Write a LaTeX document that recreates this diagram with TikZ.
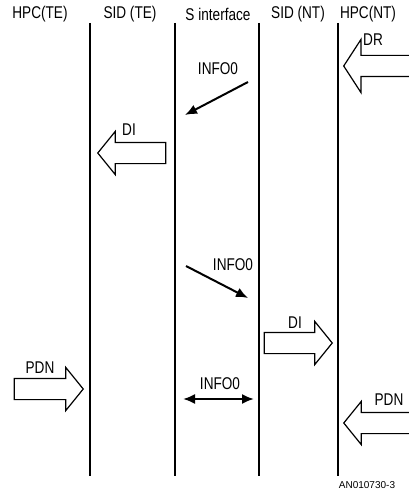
\documentclass[tikz,border=0pt]{standalone}
\usepackage{fontspec}
\setmainfont[FakeStretch=0.8]{Liberation Sans}
\newfontfamily\notefont{Liberation Sans}
\usepackage{tikz}
\usetikzlibrary{shapes.arrows,arrows.meta}

\tikzset{
    blockarrow/.style={single arrow, draw, line width=1.2pt, inner xsep=0pt,
        inner ysep=10pt, minimum height=68pt, single arrow head extend=11pt,
        single arrow tip angle=102, single arrow head indent=0pt},
    pointleft/.style={shape border rotate=180},
    msg/.style={line width=2pt, -{Latex[length=12pt,width=10pt]}},
}

\begin{document}
\begin{tikzpicture}[x=1pt, y=-1pt, font=\fontsize{17}{19}\selectfont]
    \useasboundingbox (0, 0) rectangle (408, 492);

    \node (hpcte) at (40, 14) {HPC(TE)};
    \node (sidte) at (130, 14) {SID (TE)};
    \node (sif) at (218, 14) {S interface};
    \node (sidnt) at (298, 14) {SID (NT)};
    \node (hpcnt) at (368, 14) {HPC(NT)};

    \foreach \x in {90, 175, 259, 338}
        \draw[line width=1.2pt] (\x, 23) -- (\x, 476);

    \node[blockarrow, pointleft, anchor=tip, single arrow head extend=16pt,
        single arrow tip angle=114, minimum height=80pt] (dr) at (343, 66) {};
    \node (drlabel) at (373, 40) {DR};

    \coordinate (info1a) at (248, 82);
    \coordinate (info1b) at (185, 115);
    \draw[msg] (info1a) -- (info1b);
    \node (info1) at (218, 69) {INFO0};

    \node[blockarrow, pointleft, anchor=tip] (dite) at (97, 153) {};
    \node (dilabel) at (129, 130) {DI};

    \coordinate (info2a) at (186, 266);
    \coordinate (info2b) at (248, 298);
    \draw[msg] (info2a) -- (info2b);
    \node (info2) at (233, 265) {INFO0};

    \node[blockarrow, anchor=tip] (dint) at (333, 343) {};
    \node (dintlabel) at (295, 323) {DI};

    \node[blockarrow, anchor=tip, minimum height=69pt] (pdnte) at (84, 389) {};
    \node (pdnlabel) at (40, 368) {PDN};

    \coordinate (info3a) at (183, 399);
    \coordinate (info3b) at (254, 399);
    \draw[msg, {Latex[length=12pt,width=10pt]}-{Latex[length=12pt,width=10pt]}] (info3a) -- (info3b);
    \node (info3) at (220, 384) {INFO0};

    \node[blockarrow, pointleft, anchor=tip, minimum height=80pt] (pdnnt) at (343, 423) {};
    \node (pdnntlabel) at (389, 400) {PDN};

    \node[font=\notefont\fontsize{10}{12}\selectfont] (fig) at (367, 485) {AN010730-3};
\end{tikzpicture}
\end{document}
